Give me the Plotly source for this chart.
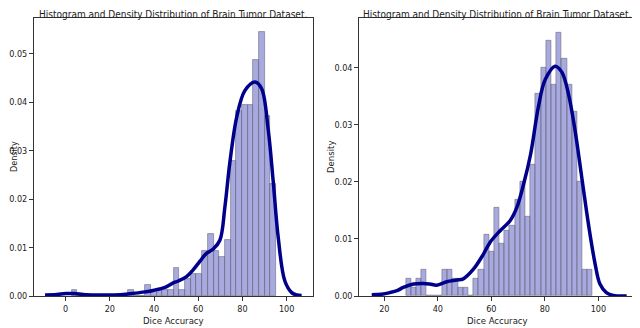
import numpy as np
import plotly.graph_objects as go

# --- data ---
title_text = "Histogram and Density Distribution of Brain Tumor Dataset."

# left panel: 36 histogram bins
left_bin_start = 2.7
left_bin_width = 2.569
left_density = [
    0.0012, 0, 0, 0, 0, 0, 0, 0, 0, 0,
    0.0012, 0, 0, 0.0023, 0.0012, 0.0012, 0.0012, 0.0012, 0.0058, 0.0012,
    0.0035, 0.0046, 0.0046, 0.0093, 0.0128, 0.0093, 0.0081, 0.0116, 0.0279, 0.0383,
    0.0395, 0.0395, 0.0488, 0.0546, 0.0372, 0.0232,
]
left_kde_x = [-9.3, -4, 0, 4, 8, 14, 20, 26, 30, 35, 40, 45, 48.7, 51, 54.7, 57.5, 60.8,
              63.5, 66.8, 69.8, 72.1, 74.3, 77.4, 81.1, 85.7, 88.7, 91.7, 93.9,
              96.2, 99.2, 102.3, 104.5, 106.8]
left_kde_y = [0.0002, 0.0003, 0.0005, 0.0005, 0.0003, 0.0002, 0.0002, 0.0003, 0.0005, 0.0008,
              0.0012, 0.0018, 0.0027, 0.0031, 0.0040, 0.0053, 0.0072,
              0.0087, 0.0097, 0.0115, 0.0185, 0.0275, 0.0369, 0.0424, 0.0442, 0.0428,
              0.0342, 0.0238, 0.0121, 0.0031, 0.0007, 0.0002, 0.0001]

# right panel: 36 histogram bins
right_bin_start = 28.1
right_bin_width = 1.939
right_density = [
    0.0031, 0.0015, 0.0031, 0.0046, 0, 0, 0, 0.0046, 0.0046, 0.0031,
    0.0015, 0.0015, 0, 0.0031, 0.0046, 0.0108, 0.0077, 0.0154, 0.0092, 0.0115,
    0.0123, 0.0169, 0.0200, 0.0139, 0.0231, 0.0354, 0.0400, 0.0447, 0.0370, 0.0462,
    0.0416, 0.0370, 0.0323, 0.0200, 0.0046, 0.0046,
]
right_kde_x = [15.3, 19, 22.1, 25, 27.1, 30.9, 34.6, 37, 39.6, 43.3, 47.1, 49.5, 53.3, 57,
               59.5, 63.2, 67, 69.5, 72, 74.7, 77.6, 80.1, 83.8, 86.3, 88.8, 91.3,
               93.8, 96.3, 98.8, 100.6, 103, 105.6, 110.6]
right_kde_y = [0.0002, 0.0003, 0.0006, 0.0010, 0.0015, 0.0021, 0.0022, 0.0021, 0.0019, 0.0025,
               0.0028, 0.0030, 0.0047, 0.0073, 0.0094, 0.0114, 0.0132, 0.0155, 0.0195,
               0.0249, 0.0332, 0.0379, 0.0403, 0.0393, 0.0355, 0.0290, 0.0208, 0.0126,
               0.0056, 0.0021, 0.0006, 0.0001, 0.0]

left_xticks = [0, 20, 40, 60, 80, 100]
left_yticks = [0.0, 0.01, 0.02, 0.03, 0.04, 0.05]
right_xticks = [20, 40, 60, 80, 100]
right_yticks = [0.0, 0.01, 0.02, 0.03, 0.04]

# --- layout helpers (page body has an 8px margin, so shift everything) ---
W, H, OFF = 640, 328, 8


def fx(px):
    return (px - OFF) / W


def fy(py):
    return 1 - (py - OFF) / H


bar_fill = "rgba(110,112,200,0.6)"
bar_edge = "rgba(100,100,115,0.7)"
kde_color = "#00008b"
font_fam = "DejaVu Sans Condensed, Liberation Sans Narrow, DejaVu Sans, sans-serif"

fig = go.Figure()

left_centers = left_bin_start + left_bin_width * (np.arange(len(left_density)) + 0.5)
right_centers = right_bin_start + right_bin_width * (np.arange(len(right_density)) + 0.5)

fig.add_trace(go.Bar(x=left_centers, y=left_density, width=left_bin_width,
                     marker=dict(color=bar_fill, line=dict(color=bar_edge, width=0.8)),
                     xaxis="x", yaxis="y", showlegend=False))
fig.add_trace(go.Scatter(x=left_kde_x, y=left_kde_y, mode="lines",
                         line=dict(color=kde_color, width=3.5, shape="spline", smoothing=1.0),
                         xaxis="x", yaxis="y", showlegend=False))
fig.add_trace(go.Bar(x=right_centers, y=right_density, width=right_bin_width,
                     marker=dict(color=bar_fill, line=dict(color=bar_edge, width=0.8)),
                     xaxis="x2", yaxis="y2", showlegend=False))
fig.add_trace(go.Scatter(x=right_kde_x, y=right_kde_y, mode="lines",
                         line=dict(color=kde_color, width=3.5, shape="spline", smoothing=1.0),
                         xaxis="x2", yaxis="y2", showlegend=False))

axis_style = dict(showline=True, mirror=True, linecolor="#333", linewidth=1,
                  ticks="outside", ticklen=4, tickcolor="#333", showgrid=False,
                  zeroline=False, automargin=False,
                  tickfont=dict(family=font_fam, size=9, color="#222"))

fig.update_layout(
    width=W, height=H,
    margin=dict(l=0, r=0, t=0, b=0, autoexpand=False),
    paper_bgcolor="white", plot_bgcolor="white",
    bargap=0,
    font=dict(family=font_fam, size=10, color="#222"),
    xaxis=dict(domain=[fx(34), fx(312.7)], range=[-14.3, 111.8],
               tickvals=left_xticks, anchor="y", **axis_style),
    yaxis=dict(domain=[fy(296), fy(18)], range=[0, 0.0574],
               tickvals=left_yticks, tickformat=".2f", anchor="x", **axis_style),
    xaxis2=dict(domain=[fx(359.3), fx(635)], range=[10.65, 113.7],
                tickvals=right_xticks, anchor="y2", **axis_style),
    yaxis2=dict(domain=[fy(296), fy(17.7)], range=[0, 0.0488],
                tickvals=right_yticks, tickformat=".2f", anchor="x2", **axis_style),
)

# titles sit at the very top of the figure so they are not clipped
annots = [
    dict(text=title_text, x=fx(173.4), y=1, yanchor="top", xanchor="center",
         font=dict(size=10)),
    dict(text=title_text, x=fx(497), y=1, yanchor="top", xanchor="center",
         font=dict(size=10)),
    dict(text="Dice Accuracy", x=fx(173.4), y=fy(320), yanchor="middle", xanchor="center",
         font=dict(size=9.5)),
    dict(text="Dice Accuracy", x=fx(497), y=fy(320), yanchor="middle", xanchor="center",
         font=dict(size=9.5)),
    dict(text="Density", x=0, y=fy(157), yanchor="middle", xanchor="left",
         font=dict(size=9), textangle=-90),
    dict(text="Density", x=fx(330), y=fy(157), yanchor="middle", xanchor="center",
         font=dict(size=9.5), textangle=-90),
]
for a in annots:
    fig.add_annotation(xref="paper", yref="paper", showarrow=False, borderpad=0, **a)

fig.write_html("out.html")
